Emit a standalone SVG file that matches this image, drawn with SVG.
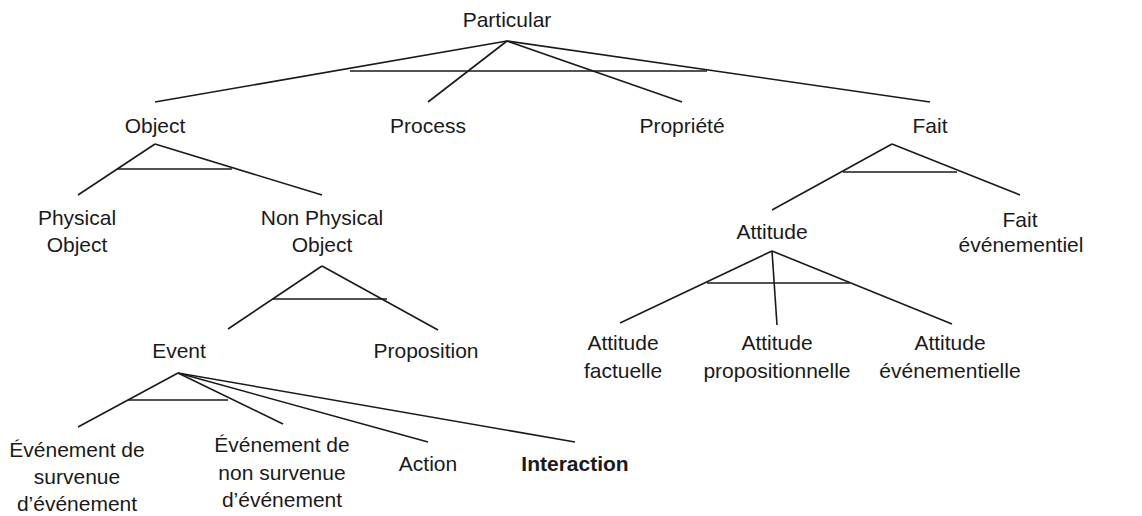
<svg xmlns="http://www.w3.org/2000/svg" width="1142" height="516" viewBox="0 0 1142 516">
<style>
text{font-family:"Liberation Sans",Arial,sans-serif;font-size:21px;fill:#1a1a1a;text-anchor:middle}
.b{font-weight:bold}
#connectors line{stroke:#1a1a1a;stroke-width:1.6;fill:none}
</style>
<rect width="1142" height="516" fill="#fff"/>
<g id="connectors">
<line x1="507" y1="41" x2="155" y2="102"/>
<line x1="507" y1="41" x2="428" y2="102"/>
<line x1="507" y1="41" x2="682" y2="102"/>
<line x1="507" y1="41" x2="930" y2="102"/>
<line x1="350" y1="71" x2="707" y2="71"/>
<line x1="155" y1="144" x2="78" y2="195"/>
<line x1="155" y1="144" x2="322" y2="195"/>
<line x1="117" y1="169" x2="232" y2="169"/>
<line x1="892" y1="144" x2="772" y2="210"/>
<line x1="892" y1="144" x2="1020" y2="195"/>
<line x1="843" y1="172" x2="957" y2="172"/>
<line x1="772" y1="251" x2="620" y2="323"/>
<line x1="772" y1="251" x2="777" y2="325"/>
<line x1="772" y1="251" x2="952" y2="324"/>
<line x1="707" y1="283" x2="850" y2="283"/>
<line x1="322" y1="266" x2="228" y2="329"/>
<line x1="322" y1="266" x2="438" y2="330"/>
<line x1="273" y1="299" x2="387" y2="299"/>
<line x1="178" y1="373" x2="78" y2="427"/>
<line x1="178" y1="373" x2="283" y2="424"/>
<line x1="178" y1="373" x2="428" y2="442"/>
<line x1="178" y1="373" x2="575" y2="442"/>
<line x1="128" y1="400" x2="228" y2="400"/>
</g>
<g id="particular"><text x="507" y="27">Particular</text></g>
<g id="object"><text x="155" y="133">Object</text></g>
<g id="process"><text x="428" y="133">Process</text></g>
<g id="propriete"><text x="682" y="133">Propriété</text></g>
<g id="fait"><text x="930" y="133">Fait</text></g>
<g id="physical-object"><text x="77" y="225">Physical</text><text x="77" y="252">Object</text></g>
<g id="non-physical-object"><text x="322" y="225">Non Physical</text><text x="322" y="252">Object</text></g>
<g id="attitude"><text x="772" y="239">Attitude</text></g>
<g id="fait-evenementiel"><text x="1020" y="227">Fait</text><text x="1021" y="252">événementiel</text></g>
<g id="attitude-factuelle"><text x="623" y="350">Attitude</text><text x="623" y="378">factuelle</text></g>
<g id="attitude-propositionnelle"><text x="777" y="350">Attitude</text><text x="777" y="378">propositionnelle</text></g>
<g id="attitude-evenementielle"><text x="950" y="350">Attitude</text><text x="950" y="378">événementielle</text></g>
<g id="event"><text x="179" y="358">Event</text></g>
<g id="proposition"><text x="426" y="358">Proposition</text></g>
<g id="evenement-survenue"><text x="77" y="457">Événement de</text><text x="77" y="484">survenue</text><text x="77" y="511">d’événement</text></g>
<g id="evenement-non-survenue"><text x="282" y="452">Événement de</text><text x="282" y="480">non survenue</text><text x="282" y="507">d’événement</text></g>
<g id="action"><text x="428" y="471">Action</text></g>
<g id="interaction"><text class="b" x="575" y="471">Interaction</text></g>
</svg>
